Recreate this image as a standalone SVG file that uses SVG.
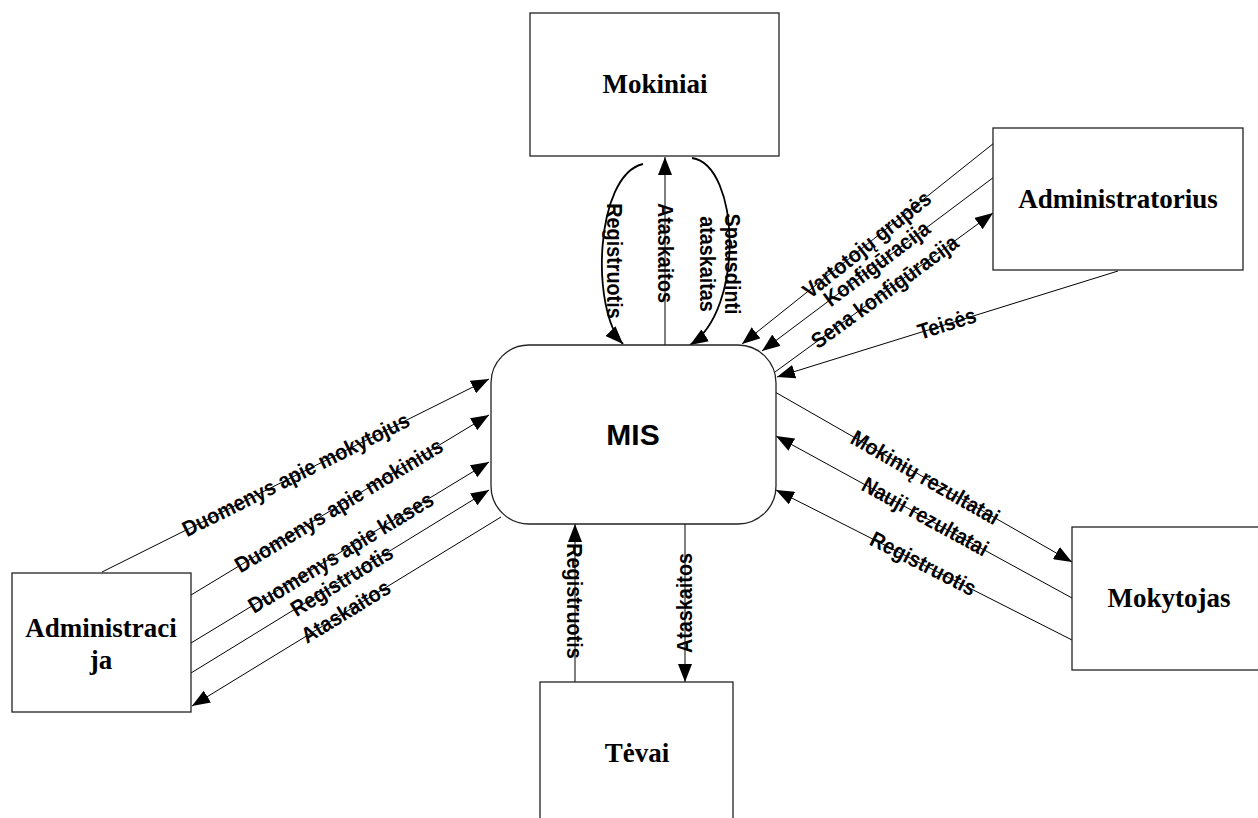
<svg xmlns="http://www.w3.org/2000/svg" width="1258" height="818" viewBox="0 0 1258 818">
  <style>
    .box { fill: #ffffff; stroke: #222222; stroke-width: 1.3; }
    .ent { font-family: "Liberation Serif", "Times New Roman", serif; font-weight: bold; font-size: 27px; fill: #000000; text-anchor: middle; }
    .proc { font-family: "Liberation Sans", Arial, sans-serif; font-weight: bold; font-size: 30px; fill: #000000; text-anchor: middle; }
    .flow { fill: none; stroke: #000000; stroke-width: 1; marker-end: url(#arrow); }
    .curve { stroke-width: 1.8; }
    .lbl { font-family: "Liberation Sans", Arial, sans-serif; font-weight: bold; font-size: 22px; fill: #000000; text-anchor: middle; }
  </style>
  <defs>
    <marker id="arrow" markerUnits="userSpaceOnUse" markerWidth="18" markerHeight="14" refX="18" refY="7" orient="auto">
      <path d="M0,0 L18,7 L0,14 z" fill="#000000"/>
    </marker>
  </defs>
  <rect width="1258" height="818" fill="#ffffff"/>

  <!-- data flows -->
  <g id="connectors">
    <!-- Mokiniai -->
    <path class="flow curve" d="M643,164 C595,175 590,310 623,344"/>
    <path class="flow" d="M665,345 L665,157"/>
    <path class="flow curve" d="M692,158 C740,165 745,310 690,345"/>
    <!-- Administratorius -->
    <path class="flow" d="M994,143 L742,344"/>
    <path class="flow" d="M994,177 L762,351"/>
    <path class="flow" d="M775,372 L993,213"/>
    <path class="flow" d="M1118,271 L777,377"/>
    <!-- Administracija -->
    <path class="flow" d="M102,572 L489,379"/>
    <path class="flow" d="M191,595 L489,415"/>
    <path class="flow" d="M191,643 L489,462"/>
    <path class="flow" d="M191,673 L489,490"/>
    <path class="flow" d="M501,517 L192,706"/>
    <!-- Mokytojas -->
    <path class="flow" d="M775,392 L1072,562"/>
    <path class="flow" d="M1072,598 L776,436"/>
    <path class="flow" d="M1072,640 L776,490"/>
    <!-- Tėvai -->
    <path class="flow" d="M575,682 L575,524"/>
    <path class="flow" d="M685,524 L685,682"/>

    <!-- flow labels (narrow bold sans) -->
    <text class="lbl" transform="translate(614,261) rotate(90) scale(0.9,1)" y="7">Registruotis</text>
    <text class="lbl" transform="translate(665,253) rotate(90) scale(0.9,1)" y="7">Ataskaitos</text>
    <text class="lbl" transform="translate(719.5,264) rotate(90) scale(0.9,1)"><tspan x="0" y="-5.5">Spausdinti</tspan><tspan x="0" y="19.5">ataskaitas</tspan></text>

    <text class="lbl" transform="translate(867,245) rotate(-38.6) scale(0.9,1)" y="7">Vartotojų grupės</text>
    <text class="lbl" transform="translate(877,264) rotate(-36.9) scale(0.9,1)" y="7">Konfigūracija</text>
    <text class="lbl" transform="translate(885,292) rotate(-36.1) scale(0.9,1)" y="7">Sena konfigūracija</text>
    <text class="lbl" transform="translate(947,324) rotate(-17.3) scale(0.9,1)" y="7">Teisės</text>

    <text class="lbl" transform="translate(296,475) rotate(-26.5) scale(0.9,1)" y="7">Duomenys apie mokytojus</text>
    <text class="lbl" transform="translate(339,506) rotate(-31.1) scale(0.9,1)" y="7">Duomenys apie mokinius</text>
    <text class="lbl" transform="translate(341,553) rotate(-31.3) scale(0.9,1)" y="7">Duomenys apie klases</text>
    <text class="lbl" transform="translate(342,581) rotate(-31.6) scale(0.9,1)" y="7">Registruotis</text>
    <text class="lbl" transform="translate(346,612) rotate(-31.5) scale(0.9,1)" y="7">Ataskaitos</text>

    <text class="lbl" transform="translate(925,478) rotate(29.8) scale(0.9,1)" y="7">Mokinių rezultatai</text>
    <text class="lbl" transform="translate(925,517) rotate(28.7) scale(0.9,1)" y="7">Nauji rezultatai</text>
    <text class="lbl" transform="translate(923,564) rotate(26.9) scale(0.9,1)" y="7">Registruotis</text>

    <text class="lbl" transform="translate(574,601) rotate(90) scale(0.9,1)" y="7">Registruotis</text>
    <text class="lbl" transform="translate(685,603) rotate(-90) scale(0.9,1)" y="7">Ataskaitos</text>
  </g>

  <!-- central process -->
  <g id="mis">
    <rect class="box" x="491" y="345" width="285" height="179" rx="38" ry="38"/>
    <text class="proc" x="633" y="445">MIS</text>
  </g>

  <!-- external entities -->
  <g id="mokiniai">
    <rect class="box" x="530" y="13" width="249" height="143"/>
    <text class="ent" x="655" y="93">Mokiniai</text>
  </g>
  <g id="administratorius">
    <rect class="box" x="993" y="128" width="250" height="142"/>
    <text class="ent" x="1118" y="208">Administratorius</text>
  </g>
  <g id="administracija">
    <rect class="box" x="12" y="573" width="179" height="139"/>
    <text class="ent" x="101" y="637">Administraci</text>
    <text class="ent" x="101" y="669">ja</text>
  </g>
  <g id="mokytojas">
    <rect class="box" x="1072" y="527" width="200" height="143"/>
    <text class="ent" x="1169" y="607">Mokytojas</text>
  </g>
  <g id="tevai">
    <rect class="box" x="540" y="682" width="193" height="150"/>
    <text class="ent" x="637" y="762">Tėvai</text>
  </g>
</svg>
